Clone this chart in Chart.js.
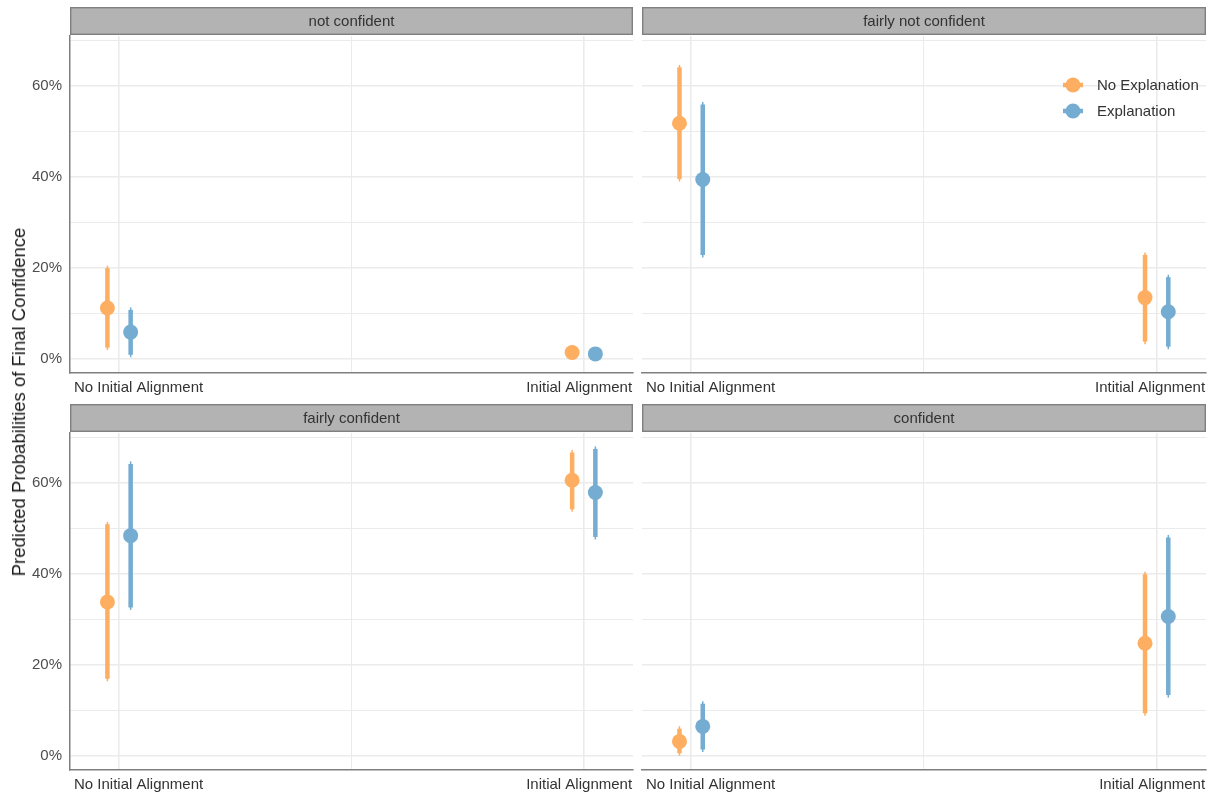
<!DOCTYPE html>
<html>
<head>
<meta charset="utf-8">
<script src="https://cdn.jsdelivr.net/npm/chart.js@4.4.1/dist/chart.umd.min.js"></script>
<style>
  html, body { margin: 0; padding: 0; background: #ffffff; }
  #wrap { position: relative; width: 1210px; height: 794px; overflow: hidden; background: #ffffff; }
  #wrap canvas { position: absolute; }
  #ytitle {
    position: absolute; left: 19px; top: 402px;
    transform: translate(-50%, -50%) rotate(-90deg);
    white-space: nowrap;
    font: 18.5px "Liberation Sans", Arial, Helvetica, sans-serif;
    color: #1a1a1a;
  }
</style>
</head>
<body>
<div id="wrap">
  <canvas id="panel0" width="637" height="397" style="left:0px;top:0px"></canvas>
  <canvas id="panel1" width="573" height="397" style="left:637px;top:0px"></canvas>
  <canvas id="panel2" width="637" height="397" style="left:0px;top:397px"></canvas>
  <canvas id="panel3" width="573" height="397" style="left:637px;top:397px"></canvas>
  <div id="ytitle">Predicted Probabilities of Final Confidence</div>
</div>
<script>
// Facets: level of final confidence
const confidenceLevels = ['not confident', 'fairly not confident', 'fairly confident', 'confident'];

// Discrete x positions: 1 = no initial alignment, 2 = initial alignment
const alignmentPositions = [1, 2];

// x-axis tick labels per facet (left edge, right edge)
const xLabelsNotConfident       = ['No Initial Alignment', 'Initial Alignment'];
const xLabelsFairlyNotConfident = ['No Initial Alignment', 'Intitial Alignment'];
const xLabelsFairlyConfident    = ['No Initial Alignment', 'Initial Alignment'];
const xLabelsConfident          = ['No Initial Alignment', 'Initial Alignment'];

// y-axis ticks (percent)
const yTicks = [0, 10, 20, 30, 40, 50, 60, 70];
const yLabelTicks = [0, 20, 40, 60];

// Series names
const seriesNames = ['No Explanation', 'Explanation'];

// Predicted probabilities (%) per facet: [no initial alignment, initial alignment]
const noExplanationEst  = [[11.1, 1.3], [51.8, 13.4], [33.8, 60.6], [3.1, 24.7]];
const noExplanationLow  = [[2.4, 0.5],  [39.5, 3.7],  [16.9, 54.2], [0.5, 9.3]];
const noExplanationHigh = [[19.9, 2.3], [64.1, 22.8], [50.9, 66.7], [5.9, 39.9]];

const explanationEst  = [[5.8, 1.0],  [39.4, 10.3], [48.4, 57.9], [6.4, 30.6]];
const explanationLow  = [[0.8, 0.2],  [22.8, 2.6],  [32.6, 48.1], [1.3, 13.3]];
const explanationHigh = [[10.7, 1.9], [55.9, 17.9], [64.2, 67.5], [11.4, 48.0]];

// ---- styling ----
const FONT = '"Liberation Sans", Arial, Helvetica, sans-serif';
const ORANGE = '#fdae61';
const BLUE = '#74add1';
const DODGE = 0.025;
const X_MIN = 0.8945, X_MAX = 2.106;
const X_LABEL_LO = 0.903, X_LABEL_HI = 2.104;
const Y_MIN = -3.2, Y_MAX = 71.0;

// Gray facet strip above each panel
const facetStrip = {
  id: 'facetStrip',
  beforeDraw(chart, args, opts) {
    const { ctx, chartArea } = chart;
    const left = chartArea.left, w = chartArea.right - chartArea.left;
    const top = 7, h = 28;
    ctx.save();
    ctx.fillStyle = '#b3b3b3';
    ctx.fillRect(left, top, w, h);
    ctx.strokeStyle = '#7f7f7f';
    ctx.lineWidth = 1.4;
    ctx.strokeRect(left + 0.7, top + 0.7, w - 1.4, h - 1.4);
    ctx.fillStyle = '#333333';
    ctx.font = '15px ' + FONT;
    ctx.textAlign = 'center';
    ctx.textBaseline = 'middle';
    ctx.fillText(opts.title, left + w / 2, top + h / 2 + 1);
    ctx.restore();
  }
};

// Interval bars drawn under the points
const intervalBars = {
  id: 'intervalBars',
  beforeDatasetsDraw(chart) {
    const { ctx } = chart;
    const xs = chart.scales.x, ys = chart.scales.y;
    ctx.save();
    chart.data.datasets.forEach(ds => {
      ds.data.forEach((pt, i) => {
        const px = xs.getPixelForValue(pt.x);
        const yLo = ys.getPixelForValue(ds.low[i]);
        const yHi = ys.getPixelForValue(ds.high[i]);
        ctx.strokeStyle = ds.backgroundColor;
        ctx.lineCap = 'butt';
        ctx.lineWidth = 1.5;
        ctx.beginPath();
        ctx.moveTo(px, yLo + 2.5);
        ctx.lineTo(px, yHi - 2.5);
        ctx.stroke();
        ctx.lineWidth = 4.5;
        ctx.beginPath();
        ctx.moveTo(px, yLo);
        ctx.lineTo(px, yHi);
        ctx.stroke();
      });
    });
    ctx.restore();
  }
};

// Legend placed inside the upper-right panel
const insetLegend = {
  id: 'insetLegend',
  afterDatasetsDraw(chart, args, opts) {
    if (!opts.show) return;
    const { ctx, chartArea } = chart;
    const cx = chartArea.right - 133;
    ctx.save();
    chart.data.datasets.forEach((ds, i) => {
      const cy = chartArea.top + 49 + i * 26;
      ctx.strokeStyle = ds.backgroundColor;
      ctx.lineWidth = 4.5;
      ctx.beginPath();
      ctx.moveTo(cx - 10, cy);
      ctx.lineTo(cx + 10, cy);
      ctx.stroke();
      ctx.fillStyle = ds.backgroundColor;
      ctx.beginPath();
      ctx.arc(cx, cy, 7.5, 0, Math.PI * 2);
      ctx.fill();
      ctx.fillStyle = '#333333';
      ctx.font = '15px ' + FONT;
      ctx.textAlign = 'left';
      ctx.textBaseline = 'middle';
      ctx.fillText(ds.label, cx + 24, cy + 0.5);
    });
    ctx.restore();
  }
};

function gridColor(ctx) {
  const v = ctx.tick ? ctx.tick.value : null;
  if (v === X_LABEL_LO || v === X_LABEL_HI) return 'rgba(0,0,0,0)';
  return '#ebebeb';
}

function makePanel(canvasId, facet, xLabels, isLeft, showLegend) {
  const points = (est, dodge) => alignmentPositions.map((p, i) => ({ x: p + dodge, y: est[facet][i] }));
  const datasets = [
    {
      label: seriesNames[0],
      data: points(noExplanationEst, -DODGE),
      low: noExplanationLow[facet],
      high: noExplanationHigh[facet],
      backgroundColor: ORANGE
    },
    {
      label: seriesNames[1],
      data: points(explanationEst, DODGE),
      low: explanationLow[facet],
      high: explanationHigh[facet],
      backgroundColor: BLUE
    }
  ];
  datasets.forEach(d => {
    d.pointRadius = 7.5;
    d.pointHoverRadius = 7.5;
    d.pointBorderWidth = 0;
    d.borderWidth = 0;
    d.showLine = false;
    d.clip = false;
  });

  return new Chart(document.getElementById(canvasId), {
    type: 'scatter',
    data: { datasets },
    plugins: [facetStrip, intervalBars, insetLegend],
    options: {
      responsive: false,
      animation: false,
      events: [],
      layout: { autoPadding: false, padding: { top: 36, right: 4, left: 0, bottom: 0 } },
      plugins: {
        legend: { display: false },
        tooltip: { enabled: false },
        facetStrip: { title: confidenceLevels[facet] },
        insetLegend: { show: showLegend }
      },
      scales: {
        x: {
          type: 'linear',
          min: X_MIN,
          max: X_MAX,
          afterBuildTicks: s => {
            s.ticks = [X_LABEL_LO, 1, 1.5, 2, X_LABEL_HI].map(v => ({ value: v }));
          },
          afterFit: s => { s.height = 24; s.paddingLeft = 0; s.paddingRight = 0; },
          ticks: {
            autoSkip: false,
            maxRotation: 0,
            minRotation: 0,
            align: 'inner',
            padding: 6,
            color: '#333333',
            font: { family: FONT, size: 15 },
            callback: v => v === X_LABEL_LO ? xLabels[0] : (v === X_LABEL_HI ? xLabels[1] : '')
          },
          grid: {
            drawTicks: false,
            color: gridColor,
            lineWidth: ctx => (ctx.tick && ctx.tick.value === 1.5) ? 1.0 : 1.6
          },
          border: { display: true, color: '#7f7f7f', width: 1.5 }
        },
        y: {
          type: 'linear',
          min: Y_MIN,
          max: Y_MAX,
          afterBuildTicks: s => { s.ticks = yTicks.map(v => ({ value: v })); },
          afterFit: s => { s.width = isLeft ? 70 : 5; s.paddingTop = 0; s.paddingBottom = 0; },
          ticks: {
            display: isLeft,
            padding: 8,
            color: '#4d4d4d',
            font: { family: FONT, size: 15 },
            callback: v => yLabelTicks.includes(v) ? v + '%' : ''
          },
          grid: {
            drawTicks: false,
            color: '#ebebeb',
            lineWidth: ctx => (ctx.tick && yLabelTicks.includes(ctx.tick.value)) ? 1.6 : 1.0
          },
          border: { display: isLeft, color: '#7f7f7f', width: 1.5 }
        }
      }
    }
  });
}

makePanel('panel0', 0, xLabelsNotConfident, true, false);
makePanel('panel1', 1, xLabelsFairlyNotConfident, false, true);
makePanel('panel2', 2, xLabelsFairlyConfident, true, false);
makePanel('panel3', 3, xLabelsConfident, false, false);
</script>
</body>
</html>
